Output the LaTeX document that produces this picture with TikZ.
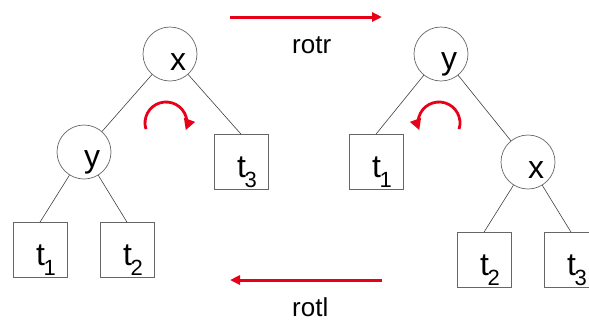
\documentclass[tikz,border=0pt]{standalone}
\usepackage{fontspec}
\setmainfont{Liberation Sans}
\usetikzlibrary{arrows.meta}
\definecolor{rotred}{RGB}{232,0,24}
\newcommand{\tsub}[1]{t\kern-1.5pt\raisebox{-10pt}{\fontsize{22}{22}\selectfont #1}}

\begin{document}
\begin{tikzpicture}[x=1pt, y=-1pt,
    vertex/.style={circle, draw=black!60, line width=0.7pt, minimum size=54pt, inner sep=0pt},
    leaf/.style={rectangle, draw=black!60, line width=0.7pt, minimum width=54pt, minimum height=55pt, inner sep=0pt},
    lbl/.style={font=\fontsize{32}{32}\selectfont, inner sep=0pt, anchor=base},
    leaflbl/.style={font=\fontsize{32}{32}\selectfont, inner sep=0pt, anchor=base west},
    edge/.style={black!75, line width=0.6pt},
    rot/.style={rotred, line width=3pt, -{Triangle[length=10pt, width=9pt]}},
    turn/.style={rotred, line width=2.8pt, -{Triangle[length=11pt, width=11pt]}}]
  \useasboundingbox (0,0) rectangle (589,322);
  % left tree
  \node[vertex] (lx) at (170,54) {};
  \node[vertex] (ly) at (84,152) {};
  \node[leaf] (lt3) at (241,162) {};
  \node[leaf] (lt1) at (40,250) {};
  \node[leaf] (lt2) at (127,250) {};
  \node[lbl] (lxl) at ([shift={(8,16)}]lx.center) {x};
  \node[lbl] (lyl) at ([shift={(8,15)}]ly.center) {y};
  \node[leaflbl] (lt1l) at ([shift={(-4,15)}]lt1.center) {\tsub{1}};
  \node[leaflbl] (lt2l) at ([shift={(-4,15)}]lt2.center) {\tsub{2}};
  \node[leaflbl] (lt3l) at ([shift={(-4,15)}]lt3.center) {\tsub{3}};
  \draw[edge] (lx) -- (ly);
  \draw[edge] (lx) -- (lt3.north);
  \draw[edge] (ly) -- (lt1.north);
  \draw[edge] (ly) -- (lt2.north);
  \coordinate (lturn) at (166,123);
  \draw[turn] ([shift={(163:21)}]lturn) arc[start angle=163, end angle=380, radius=21];
  % right tree
  \node[vertex] (ry) at (441,54) {};
  \node[vertex] (rx) at (528,162) {};
  \node[leaf] (rt1) at (376,162) {};
  \node[leaf] (rt2) at (484,260) {};
  \node[leaf] (rt3) at (571,260) {};
  \node[lbl] (ryl) at ([shift={(8,15)}]ry.center) {y};
  \node[lbl] (rxl) at ([shift={(8,16)}]rx.center) {x};
  \node[leaflbl] (rt1l) at ([shift={(-4,15)}]rt1.center) {\tsub{1}};
  \node[leaflbl] (rt2l) at ([shift={(-4,15)}]rt2.center) {\tsub{2}};
  \node[leaflbl] (rt3l) at ([shift={(-4,15)}]rt3.center) {\tsub{3}};
  \draw[edge] (ry) -- (rt1.north);
  \draw[edge] (ry) -- (rx);
  \draw[edge] (rx) -- (rt2.north);
  \draw[edge] (rx) -- (rt3.north);
  \coordinate (rturn) at (439,123);
  \draw[turn] ([shift={(17:21)}]rturn) arc[start angle=17, end angle=-200, radius=21];
  % rotations
  \coordinate (ra) at (230,17);
  \coordinate (rb) at (382,17);
  \coordinate (la) at (382,280);
  \coordinate (lb) at (230,280);
  \draw[rot] (ra) -- (rb);
  \draw[rot] (la) -- (lb);
  \node[font=\fontsize{26}{26}\selectfont, inner sep=0pt, anchor=base west] (rotr) at (292,53) {rotr};
  \node[font=\fontsize{26}{26}\selectfont, inner sep=0pt, anchor=base west] (rotl) at (292,316) {rotl};
\end{tikzpicture}
\end{document}
